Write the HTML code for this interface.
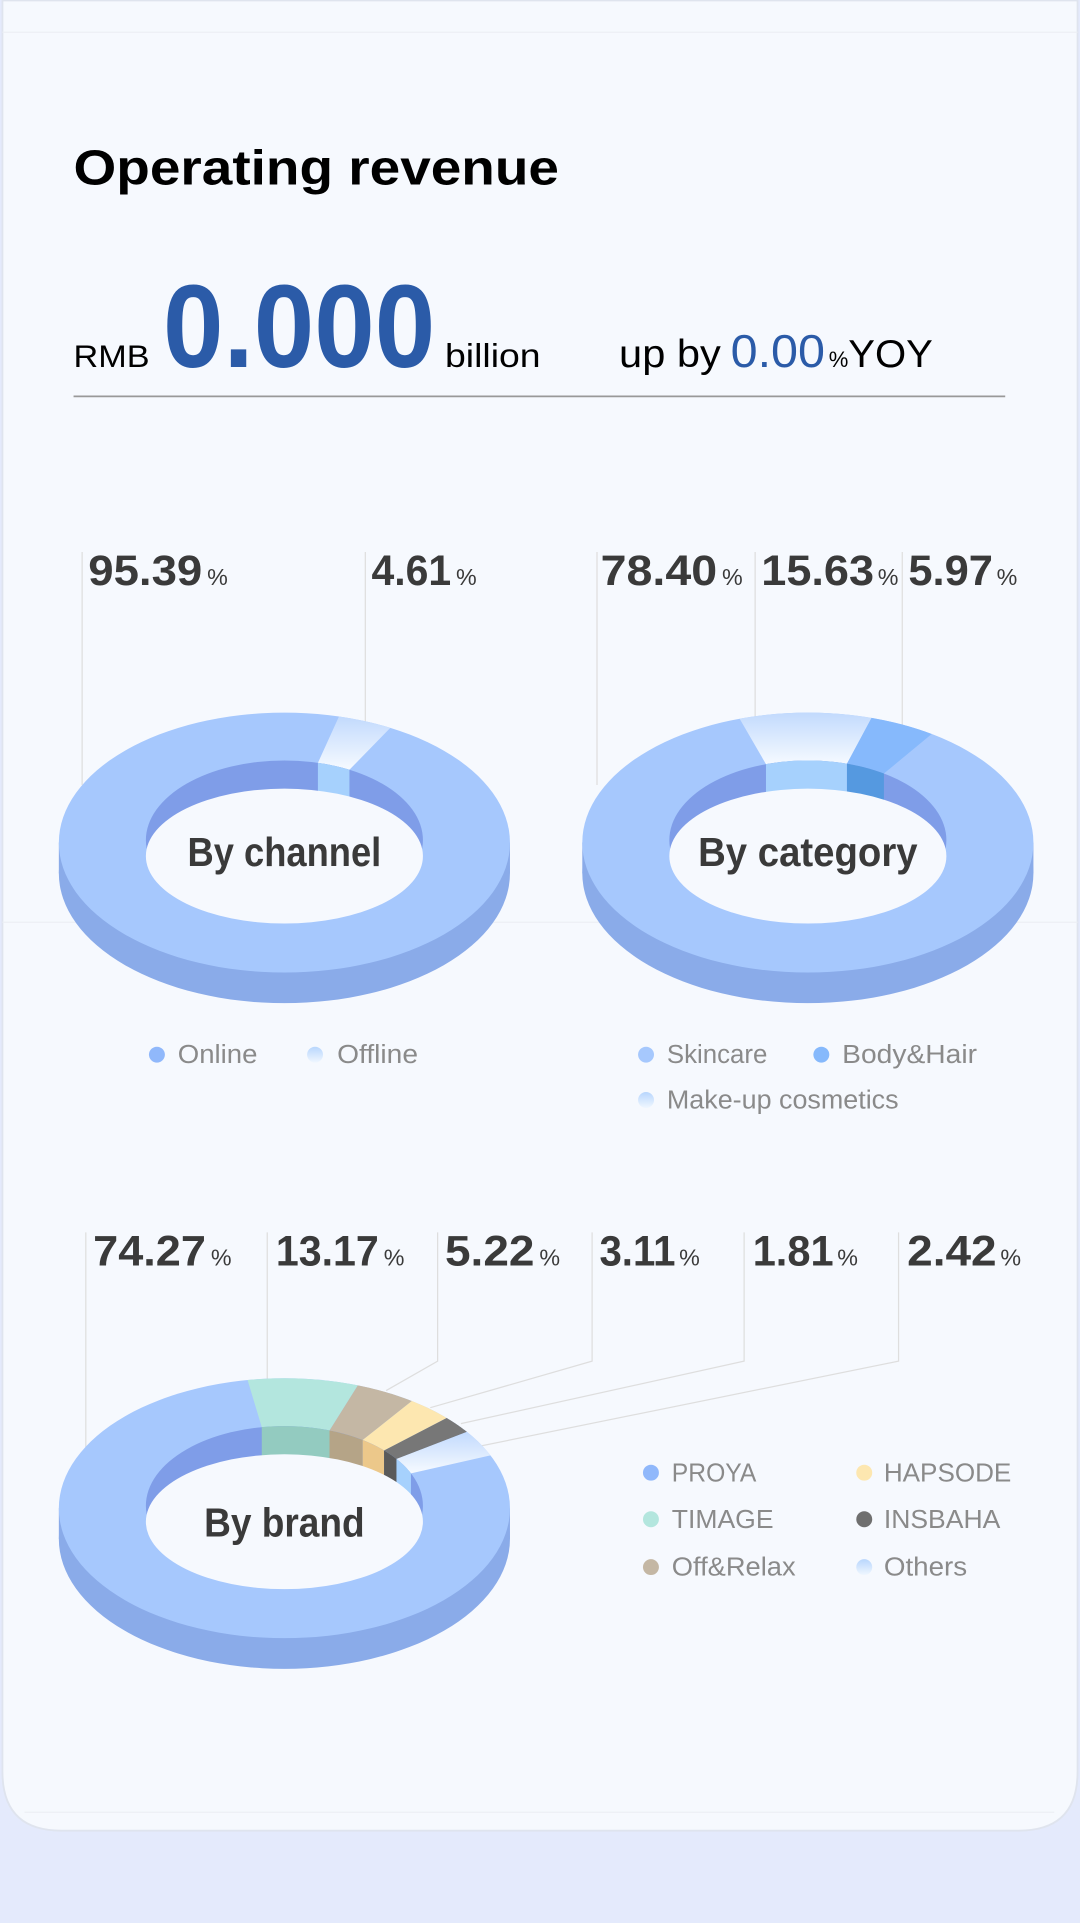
<!DOCTYPE html>
<html><head><meta charset="utf-8"><style>
html,body{margin:0;padding:0;background:#e4eafc;}
svg{display:block;}
text{font-family:"Liberation Sans",sans-serif;}
</style></head><body>
<svg id="s" xmlns="http://www.w3.org/2000/svg" width="1080" height="1923" viewBox="0 0 881 1568">
<defs>
<linearGradient id="g" x1="0" y1="0" x2="0" y2="1"><stop offset="0" stop-color="#c2dafd"/><stop offset="1" stop-color="#f6faff"/></linearGradient>
<linearGradient id="gd" x1="0" y1="0" x2="0" y2="1"><stop offset="0" stop-color="#b8d6fd"/><stop offset="1" stop-color="#f0f7ff"/></linearGradient>
</defs>
<rect width="881" height="1568" fill="#e4eafc"/>
<path d="M2 0 H879 V1445 Q879 1493 831 1493 H50 Q2 1493 2 1445 Z" fill="#f6f9fe" stroke="#dfe4ee" stroke-width="1.5"/>
<line x1="2" y1="26" x2="879" y2="26" stroke="#eceff5" stroke-width="1"/>
<line x1="2" y1="752" x2="879" y2="752" stroke="#eceff5" stroke-width="1"/>
<line x1="20" y1="1478" x2="860" y2="1478" stroke="#eceff5" stroke-width="1"/>

<text x="60" y="150" font-size="40" font-weight="bold" fill="#000" textLength="396" lengthAdjust="spacingAndGlyphs">Operating revenue</text>
<text x="60" y="299" font-size="26" fill="#000" textLength="62" lengthAdjust="spacingAndGlyphs">RMB</text>
<text x="133" y="299" font-size="96" font-weight="bold" fill="#2b5ba8" textLength="222" lengthAdjust="spacingAndGlyphs">0.000</text>
<text x="363" y="299" font-size="27" fill="#000" textLength="78" lengthAdjust="spacingAndGlyphs">billion</text>
<text x="505" y="299" font-size="32" fill="#000" textLength="83" lengthAdjust="spacingAndGlyphs">up by</text>
<text x="596" y="299" font-size="38" fill="#2b5ba8" textLength="77" lengthAdjust="spacingAndGlyphs">0.00</text>
<text x="676" y="299" font-size="18" fill="#000">%</text>
<text x="692" y="299" font-size="32" fill="#000" textLength="69" lengthAdjust="spacingAndGlyphs">YOY</text>
<line x1="60" y1="323" x2="820" y2="323" stroke="#999" stroke-width="1.5"/>

<g stroke="#dedede" stroke-width="1" fill="none">
<line x1="67" y1="450" x2="67" y2="640"/>
<line x1="298" y1="450" x2="298" y2="590"/>
<line x1="487" y1="450" x2="487" y2="640"/>
<line x1="616" y1="450" x2="616" y2="590"/>
<line x1="736" y1="450" x2="736" y2="595"/>
<line x1="70" y1="1005" x2="70" y2="1180"/>
<line x1="218" y1="1005" x2="218" y2="1125"/>
<polyline points="357,1005 357,1110 315,1134"/>
<polyline points="483,1005 483,1110 351,1148"/>
<polyline points="607,1005 607,1110 376,1161"/>
<polyline points="733,1005 733,1110 393,1179"/>
</g>
<g id="donuts"></g>

<g fill="#3a3a3a" font-weight="bold" font-size="35">
<text x="72" y="477" textLength="93" lengthAdjust="spacingAndGlyphs">95.39</text><text x="169" y="477" font-size="19" font-weight="normal">%</text>
<text x="303" y="477" textLength="65" lengthAdjust="spacingAndGlyphs">4.61</text><text x="372" y="477" font-size="19" font-weight="normal">%</text>
<text x="490" y="477" textLength="95" lengthAdjust="spacingAndGlyphs">78.40</text><text x="589" y="477" font-size="19" font-weight="normal">%</text>
<text x="621" y="477" textLength="92" lengthAdjust="spacingAndGlyphs">15.63</text><text x="716" y="477" font-size="19" font-weight="normal">%</text>
<text x="741" y="477" textLength="69" lengthAdjust="spacingAndGlyphs">5.97</text><text x="813" y="477" font-size="19" font-weight="normal">%</text>
<text x="76" y="1032" textLength="92" lengthAdjust="spacingAndGlyphs">74.27</text><text x="172" y="1032" font-size="19" font-weight="normal">%</text>
<text x="225" y="1032" textLength="84" lengthAdjust="spacingAndGlyphs">13.17</text><text x="313" y="1032" font-size="19" font-weight="normal">%</text>
<text x="363" y="1032" textLength="73" lengthAdjust="spacingAndGlyphs">5.22</text><text x="440" y="1032" font-size="19" font-weight="normal">%</text>
<text x="489" y="1032" textLength="62" lengthAdjust="spacingAndGlyphs">3.11</text><text x="554" y="1032" font-size="19" font-weight="normal">%</text>
<text x="614" y="1032" textLength="66" lengthAdjust="spacingAndGlyphs">1.81</text><text x="683" y="1032" font-size="19" font-weight="normal">%</text>
<text x="740" y="1032" textLength="73" lengthAdjust="spacingAndGlyphs">2.42</text><text x="816" y="1032" font-size="19" font-weight="normal">%</text>
</g>

<g fill="#3a3a3a" font-weight="bold" font-size="33" text-anchor="middle">
<text x="232" y="706" textLength="158" lengthAdjust="spacingAndGlyphs">By channel</text>
<text x="659" y="706" textLength="179" lengthAdjust="spacingAndGlyphs">By category</text>
<text x="232" y="1253" textLength="131" lengthAdjust="spacingAndGlyphs">By brand</text>
</g>

<g font-size="21" fill="#8a8a8a">
<circle cx="128" cy="860" r="6.5" fill="#90b8fb"/><text x="145" y="867" textLength="65" lengthAdjust="spacingAndGlyphs">Online</text>
<circle cx="257" cy="860" r="6.5" fill="url(#gd)"/><text x="275" y="867" textLength="66" lengthAdjust="spacingAndGlyphs">Offline</text>
<circle cx="527" cy="860" r="6.5" fill="#a6c8fd"/><text x="544" y="867" textLength="82" lengthAdjust="spacingAndGlyphs">Skincare</text>
<circle cx="670" cy="860" r="6.5" fill="#86b9fc"/><text x="687" y="867" textLength="110" lengthAdjust="spacingAndGlyphs">Body&amp;Hair</text>
<circle cx="527" cy="897" r="6.5" fill="url(#gd)"/><text x="544" y="904" textLength="189" lengthAdjust="spacingAndGlyphs">Make-up cosmetics</text>
<circle cx="531" cy="1201" r="6.5" fill="#90b8fb"/><text x="548" y="1208" textLength="69" lengthAdjust="spacingAndGlyphs">PROYA</text>
<circle cx="531" cy="1239" r="6.5" fill="#b3e6de"/><text x="548" y="1246" textLength="83" lengthAdjust="spacingAndGlyphs">TIMAGE</text>
<circle cx="531" cy="1278" r="6.5" fill="#c4b7a4"/><text x="548" y="1285" textLength="101" lengthAdjust="spacingAndGlyphs">Off&amp;Relax</text>
<circle cx="705" cy="1201" r="6.5" fill="#fde7b0"/><text x="721" y="1208" textLength="104" lengthAdjust="spacingAndGlyphs">HAPSODE</text>
<circle cx="705" cy="1239" r="6.5" fill="#6f6f6f"/><text x="721" y="1246" textLength="95" lengthAdjust="spacingAndGlyphs">INSBAHA</text>
<circle cx="705" cy="1278" r="6.5" fill="url(#gd)"/><text x="721" y="1285" textLength="68" lengthAdjust="spacingAndGlyphs">Others</text>
</g>
</svg>
<script>
(function(){
var NS="http://www.w3.org/2000/svg",g=document.getElementById("donuts");
function el(n,a){var e=document.createElementNS(NS,n);for(var k in a)e.setAttribute(k,a[k]);g.appendChild(e);return e;}
function P(cx,cy,rx,ry,t){t=t*Math.PI/180;return [cx+rx*Math.sin(t),cy-ry*Math.cos(t)];}
function arc(cx,cy,rx,ry,t1,t2){var a=[];for(var i=0;i<=24;i++)a.push(P(cx,cy,rx,ry,t1+(t2-t1)*i/24));return a;}
function path(pts){return "M"+pts.map(function(p){return p[0].toFixed(2)+" "+p[1].toFixed(2);}).join(" L")+"Z";}
function donut(cx,cy,sl){
 var rx=184,ry=106,d=25,wy=cy-2,wx=113,wr=65;
 el("ellipse",{cx:cx,cy:cy+d,rx:rx,ry:ry,fill:"#8aabe9"});
 el("rect",{x:cx-rx,y:cy,width:2*rx,height:d,fill:"#8aabe9"});
 el("ellipse",{cx:cx,cy:cy,rx:rx,ry:ry,fill:"#a6c8fd"});
 sl.forEach(function(s){
  var o=arc(cx,cy,rx,ry,s[0],s[1]),i=arc(cx,wy,wx,wr,s[1],s[0]);
  el("path",{d:path(o.concat(i)),fill:s[2]});
 });
 el("ellipse",{cx:cx,cy:wy,rx:wx,ry:wr,fill:"#7f9de8"});
 sl.forEach(function(s){
  var a=arc(cx,wy,wx,wr,s[0],s[1]);
  var b=a.slice().reverse().map(function(p){return [p[0],p[1]+60];});
  el("path",{d:path(a.concat(b)),fill:s[3]});
 });
 el("ellipse",{cx:cx,cy:cy+11,rx:113,ry:55,fill:"#f6f9fe"});
}
donut(232,687,[[14,28,"url(#g)","#a6d1fd"]]);
donut(659,687,[[-17.6,16.4,"url(#g)","#a6d1fd"],[16.4,33.3,"#86b9fc","#5599e0"]]);
donut(232,1230,[[-9.4,19,"#b3e6de","#93cbc0"],[19,34.4,"#c4b7a4","#b5a487"],[34.4,46,"#fde7b0","#ecc88a"],[46,54,"#777777","#5a5a5a"],[54,66,"url(#g)","#a6d1fd"]]);
})();
</script>
</body></html>
